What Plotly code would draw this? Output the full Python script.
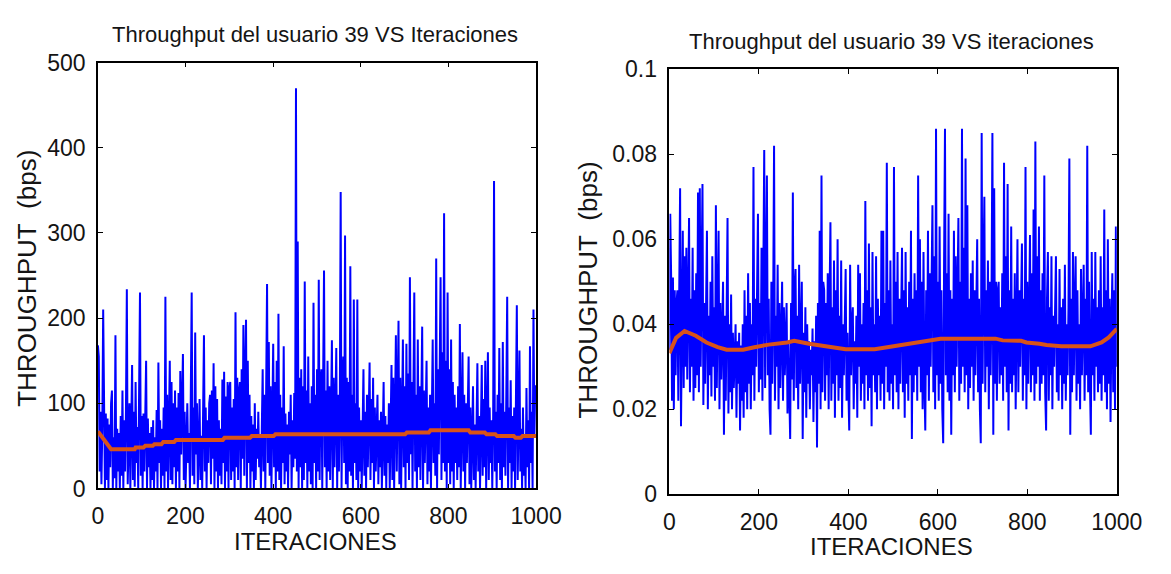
import plotly.graph_objects as go

# ---------------- data ----------------
iterations = list(range(0, 1001, 2))

throughput_left = [
    168,155,20,90,5, 70,210,125,0,88, 10,82,0,75,25, 100,115,0,60,12,
    180,0,70,20,65, 0,85,15,115,0, 80,20,92,234,5, 55,100,0,68,145,
    10,90,2,125,30, 72,0,85,230,15, 85,0,88,20,105, 150,0,82,25,65,
    0,72,10,80,0, 60,20,92,0,148, 30,80,0,70,15, 95,0,225,20,110,
    0,90,150,10,125, 5,100,25,115,0, 95,20,112,0,138, 40,105,158,10,90,
    0,75,100,30,65, 0,120,230,15,95, 5,183,40,100,0, 70,105,10,62,0,
    88,180,20,95,0, 80,30,100,110,5, 115,35,147,0,120, 20,105,0,80,15,
    70,5,128,30,137, 0,108,20,125,0, 118,125,10,95,20, 105,0,207,25,130,
    10,115,125,0,140, 35,192,15,130,198, 0,150,30,110,0, 85,20,75,0,100,
    10,70,35,90,25, 60,0,95,140,20, 110,0,130,240,30, 172,15,120,0,140,
    170,25,125,0,150, 20,205,10,110,0, 95,30,167,5,88, 20,75,0,90,40,
    110,0,80,25,112, 35,470,20,290,0, 130,25,140,0,120, 10,243,30,115,0,
    155,20,100,5,120, 0,218,30,110,0, 140,20,245,10,125, 140,0,130,256,25,
    115,0,150,20,120, 10,105,174,0,130, 25,100,165,0,110, 20,95,348,0,120,
    155,30,297,5,130, 0,125,20,261,15, 110,0,222,30,100, 10,222,0,95,20,
    80,0,100,140,15, 90,0,110,25,120, 148,10,105,30,130, 0,95,20,85,110,
    5,80,25,90,0, 70,125,15,85,0, 75,30,100,0,90, 145,10,130,0,120,
    180,20,140,197,5, 130,0,115,175,25, 120,0,170,30,135, 10,248,40,125,0,
    140,230,20,110,0, 175,25,120,10,130, 190,0,115,30,100, 150,5,95,20,110,
    0,125,175,30,100, 15,270,0,140,40, 130,248,10,160,30, 323,20,150,0,230,
    30,140,5,175,20, 125,0,110,30,95, 10,120,25,193,0, 140,160,20,110,0,
    100,30,120,155,5, 95,0,85,120,10, 75,0,90,147,20, 85,0,100,145,15,
    105,25,150,0,120, 160,10,95,30,80, 0,85,361,20,90, 0,110,30,165,10,
    100,0,172,25,90, 15,110,225,0,95, 30,127,0,85,20, 95,0,80,215,10,
    75,162,20,70,0, 95,15,60,0,118, 25,80,0,167,30, 90,0,210,60,120,
    120,
]

# right panel values in thousandths of bps
throughput_right_milli = [
    34,66,51,22,51, 20,48,28,45,48, 22,55,72,16,50, 62,25,56,30,58,
    27,50,65,24,46, 30,58,22,48,25, 52,28,71,24,72, 30,48,73,21,45,
    26,55,62,20,42, 28,50,23,56,30, 44,22,68,25,48, 62,20,45,27,38,
    50,14,42,22,47, 65,19,40,24,47, 20,38,25,35,40, 18,36,26,38,15,
    35,22,40,18,48, 24,42,20,52,26, 45,20,40,28,77, 22,46,30,50,66,
    24,45,27,58,22, 48,81,25,50,75, 28,46,20,14,50, 26,44,82,22,42,
    30,54,20,45,25, 40,50,22,44,28, 38,45,19,36,24, 13,45,27,71,22,
    48,53,25,42,20, 54,26,45,50,13, 38,24,44,18,40, 26,36,20,34,28,
    39,17,36,24,42, 11,45,26,62,20, 75,24,50,48,22, 45,28,52,20,46,
    64,22,44,26,55, 18,48,28,60,22, 42,25,55,18,40, 28,46,53,22,38,
    25,15,54,28,40, 44,20,36,26,42, 18,54,30,52,22, 40,26,45,20,69,
    28,48,22,59,25, 44,16,57,28,40, 24,56,20,46,28, 42,22,62,26,62,
    20,45,30,78,24, 48,22,55,26,40, 20,77,28,50,24, 57,20,46,26,42,
    58,24,48,18,57, 26,44,22,50,28, 62,13,46,24,52, 28,48,22,75,30,
    60,24,50,20,57, 26,15,48,28,62, 22,52,30,50,68, 24,56,20,86,28,
    50,22,63,26,48, 20,12,55,86,28, 52,24,66,22,48, 14,46,28,62,24,
    56,30,48,65,22, 50,26,86,30,58, 24,79,28,68,20, 46,25,52,30,55,
    22,48,28,50,60, 24,46,20,12,85, 26,52,70,24,48, 30,55,20,50,28,
    46,85,14,72,26, 50,22,48,50,26, 44,28,52,22,78, 30,56,24,73,15,
    48,26,63,24,46, 28,52,20,45,60, 24,48,30,50,59, 22,46,28,77,20,
    50,26,48,61,24, 52,28,67,22,83, 26,56,30,63,22, 48,26,52,28,75,
    24,15,46,57,22, 44,28,56,20,42, 30,48,56,24,40, 22,53,28,44,20,
    46,26,54,22,40, 28,44,79,14,46, 24,57,28,44,56, 22,48,26,40,20,
    53,28,44,54,22, 46,28,82,24,50, 26,14,57,28,46, 22,57,30,44,24,
    48,26,56,22,44, 28,67,24,48,20, 60,26,46,17,40, 52,24,48,20,63,
    30,
]
throughput_right = [v / 1000 for v in throughput_right_milli]

# smoothed (orange) curves
trend_left_x = [0, 30, 84, 86, 104, 108, 125, 129, 145, 149, 174, 178, 285, 289,
                347, 351, 401, 405, 701, 705, 755, 759, 846, 850, 883, 887, 907,
                911, 949, 953, 965, 969, 1000]
trend_left_y = [67, 46, 46, 48, 48, 50, 50, 52, 52, 54.5, 54.5, 57, 57, 59.4,
                59.4, 61.5, 61.5, 63.5, 63.5, 65.6, 65.6, 68.4, 68.4, 65.6, 65.6,
                63.5, 63.5, 61.5, 61.5, 59.4, 59.4, 61.5, 61.5]

trend_right_x = [0, 15, 34, 59, 83, 108, 128, 165, 190, 222, 263, 279, 312, 353,
                 394, 459, 500, 533, 574, 606, 729, 745, 786, 798, 827, 843, 876,
                 941, 966, 982, 1000]
trend_right_milli = [33.2, 36.8, 38.4, 37.3, 35.7, 34.6, 34.0, 34.0, 34.6, 35.2,
                     35.7, 36.1, 35.4, 34.8, 34.1, 34.1, 34.8, 35.4, 36.1, 36.6,
                     36.6, 36.2, 36.1, 35.7, 35.4, 35.1, 34.8, 34.8, 35.7, 36.9, 38.9]
trend_right_y = [v / 1000 for v in trend_right_milli]

# ---------------- figure ----------------
BLUE = "#0000FF"
ORANGE = "#D95319"
TXT = "#141414"
FONT = "Liberation Sans, Arial, sans-serif"

fig = go.Figure()
fig.add_trace(go.Scatter(x=iterations, y=throughput_left, mode="lines",
                         line=dict(color=BLUE, width=2), xaxis="x", yaxis="y",
                         showlegend=False, hoverinfo="skip"))
fig.add_trace(go.Scatter(x=trend_left_x, y=trend_left_y, mode="lines",
                         line=dict(color=ORANGE, width=4), xaxis="x", yaxis="y",
                         showlegend=False))
fig.add_trace(go.Scatter(x=iterations, y=throughput_right, mode="lines",
                         line=dict(color=BLUE, width=2), xaxis="x2", yaxis="y2",
                         showlegend=False, hoverinfo="skip"))
fig.add_trace(go.Scatter(x=trend_right_x, y=trend_right_y, mode="lines",
                         line=dict(color=ORANGE, width=4), xaxis="x2", yaxis="y2",
                         showlegend=False))

W, H = 1171, 574
Lx0, Lx1, Ly0, Ly1 = 94.5, 545, 52, 498
Rx0, Rx1, Ry0, Ry1 = 682, 1142, 59, 504

def xd(a, b):
    return [a / W, b / W]

def yd(top, bot):
    return [1 - bot / H, 1 - top / H]

axis_common = dict(showgrid=False, zeroline=False, showline=True, linecolor="black",
                   linewidth=1.5, mirror="ticks", ticks="inside", ticklen=5,
                   tickwidth=1.2, tickcolor="black",
                   tickfont=dict(family=FONT, size=23, color=TXT))

fig.update_layout(
    width=W, height=H, autosize=False,
    margin=dict(l=0, r=0, t=0, b=0),
    paper_bgcolor="white", plot_bgcolor="white",
    xaxis=dict(domain=xd(Lx0, Lx1), range=[0, 1000], tickvals=[0, 200, 400, 600, 800, 1000],
               anchor="y", ticklabelstandoff=6, **axis_common),
    yaxis=dict(domain=yd(Ly0, Ly1), range=[0, 500], tickvals=[0, 100, 200, 300, 400, 500],
               anchor="x", ticklabelstandoff=6, **axis_common),
    xaxis2=dict(domain=xd(Rx0, Rx1), range=[0, 1000], tickvals=[0, 200, 400, 600, 800, 1000],
                anchor="y2", ticklabelstandoff=6, **axis_common),
    yaxis2=dict(domain=yd(Ry0, Ry1), range=[0, 0.1], tickvals=[0, 0.02, 0.04, 0.06, 0.08, 0.1],
                anchor="x2", ticklabelstandoff=6, **axis_common),
)

def ann(text, x, y, size, angle=0):
    fig.add_annotation(text=text, x=x / W, y=1 - y / H, xref="paper", yref="paper",
                       showarrow=False, xanchor="center", yanchor="middle",
                       textangle=angle, borderpad=0,
                       font=dict(family=FONT, size=size, color=TXT))

ann("Throughput del usuario 39 VS Iteraciones", 318, 22, 22)
ann("Throughput del usuario 39 VS iteraciones", 910, 30, 22)
ann("ITERACIONES", 318, 554, 24)
ann("ITERACIONES", 910, 559, 24)
ann("THROUGHPUT\u00a0 (bps)", 22, 278, 26, -90)
ann("THROUGHPUT\u00a0 (bps)", 598, 290, 26, -90)

fig.write_html("out.html")
